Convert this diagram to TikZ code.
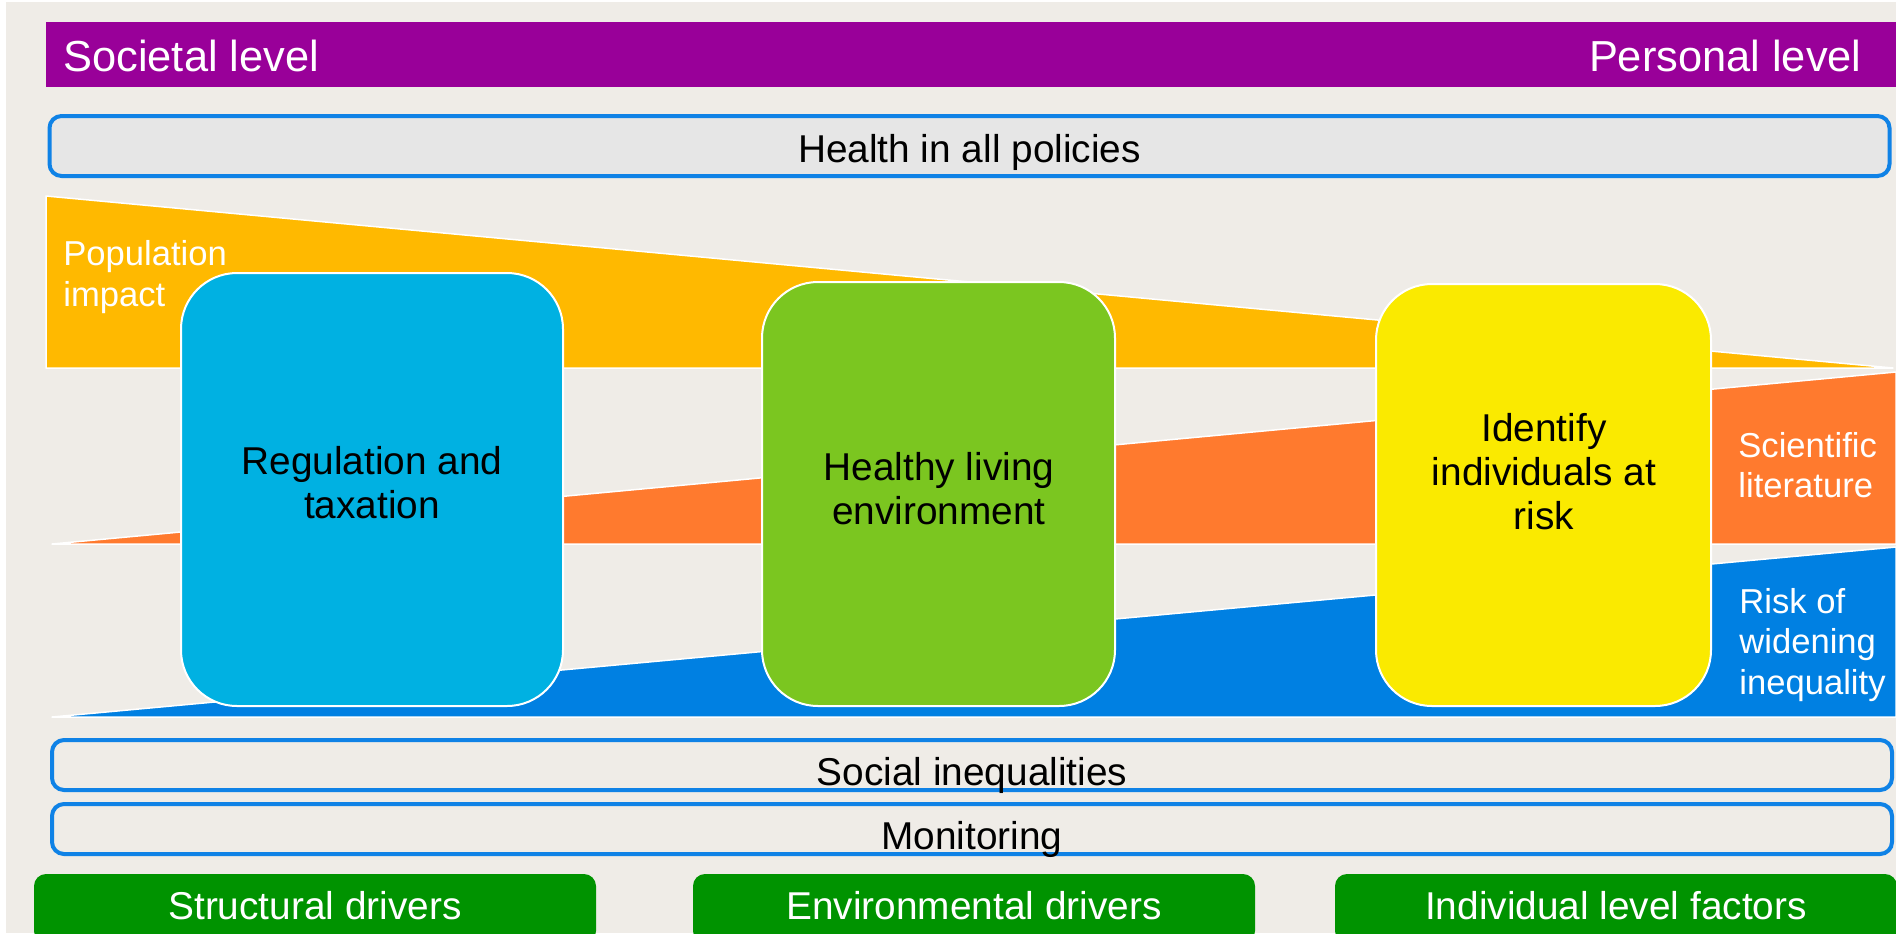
\documentclass[tikz,border=0pt]{standalone}
\usepackage{fontspec}
\setmainfont{Liberation Sans}
\definecolor{bgc}{HTML}{EFECE7}
\definecolor{purp}{HTML}{990099}
\definecolor{grayf}{HTML}{E6E6E6}
\definecolor{bblue}{HTML}{0F82E6}
\definecolor{amber}{HTML}{FFB900}
\definecolor{orng}{HTML}{FF7A2E}
\definecolor{tblue}{HTML}{0080E2}
\definecolor{cyanb}{HTML}{00B1E2}
\definecolor{lgreen}{HTML}{7BC620}
\definecolor{yell}{HTML}{FAEA00}
\definecolor{dgreen}{HTML}{009300}
\begin{document}
\begin{tikzpicture}[x=0.5pt,y=-0.5pt,
  bar/.style={draw=bblue, line width=2pt, rounded corners=6pt, inner sep=0pt,
    minimum width=920pt, text height=20pt, text depth=0pt,
    font=\fontsize{19.4}{22}\selectfont},
  tri/.style={draw=white, line width=0.75pt, line join=round},
  bigbox/.style={draw=white, line width=1pt, rounded corners=28pt, inner sep=0pt},
  boxtext/.style={align=center, inner sep=0pt, text=black,
    font=\fontsize{19.4}{22}\selectfont},
  lbl/.style={align=left, anchor=west, text=white, inner sep=0pt,
    font=\fontsize{17.3}{20.2}\selectfont},
  gbtn/.style={fill=dgreen, rounded corners=6pt, text=white, inner sep=0pt,
    text height=22.5pt, text depth=12pt, minimum width=281pt, anchor=base,
    font=\fontsize{19.4}{22}\selectfont},
  toptext/.style={text=white, inner sep=0pt, font=\fontsize{21.7}{24}\selectfont}
]
\useasboundingbox (0,0) rectangle (1896,933);
\fill[white] (0,0) rectangle (1896,933);
\fill[bgc] (6,2) rectangle (1896,933);

% header bar
\fill[purp] (46,22) rectangle (1896,87);
\node[toptext, anchor=base west] (soc) at (63,71) {Societal level};
\node[toptext, anchor=base east] (pers) at (1862,71) {Personal level};

% health in all policies
\node[bar, fill=grayf, minimum height=30pt, text height=16pt] (hiap) at (969.5,146) {Health in all policies};

% wedges
\fill[amber, tri] (46,196) -- (46,368) -- (1893,368) -- cycle;
\fill[orng, tri] (52,544) -- (1896,372) -- (1896,544) -- cycle;
\fill[tblue, tri] (52,717) -- (1896,547) -- (1896,717) -- cycle;

\node[lbl] (pop) at (63,277) {Population\\impact};
\node[lbl] (sci) at (1738,465) {Scientific\\literature};
\node[lbl] (risk) at (1739,645) {Risk of\\widening\\inequality};

% big boxes
\node[bigbox, fill=cyanb, minimum width=191pt, minimum height=216.5pt] (reg) at (372,489.5) {};
\node[boxtext] (regt) at (372,483) {Regulation and\\taxation};

\node[bigbox, fill=lgreen, minimum width=176.5pt, minimum height=212pt] (hle) at (938.5,494) {};
\node[boxtext] (hlet) at (939,488.5) {Healthy living\\environment};

\node[bigbox, fill=yell, minimum width=167.5pt, minimum height=211pt] (iir) at (1543.5,495) {};
\node[boxtext] (iirt) at (1544,472) {Identify\\individuals at\\risk};

% bottom bars
\node[bar, minimum height=25pt] (soci) at (972,765) {Social inequalities};
\node[bar, minimum height=25pt] (mon) at (972,829) {Monitoring};

% green buttons
\node[gbtn] (sd) at (315,919) {Structural drivers};
\node[gbtn] (ed) at (974,919) {Environmental drivers};
\node[gbtn] (ilf) at (1616,919) {Individual level factors};
\end{tikzpicture}
\end{document}
